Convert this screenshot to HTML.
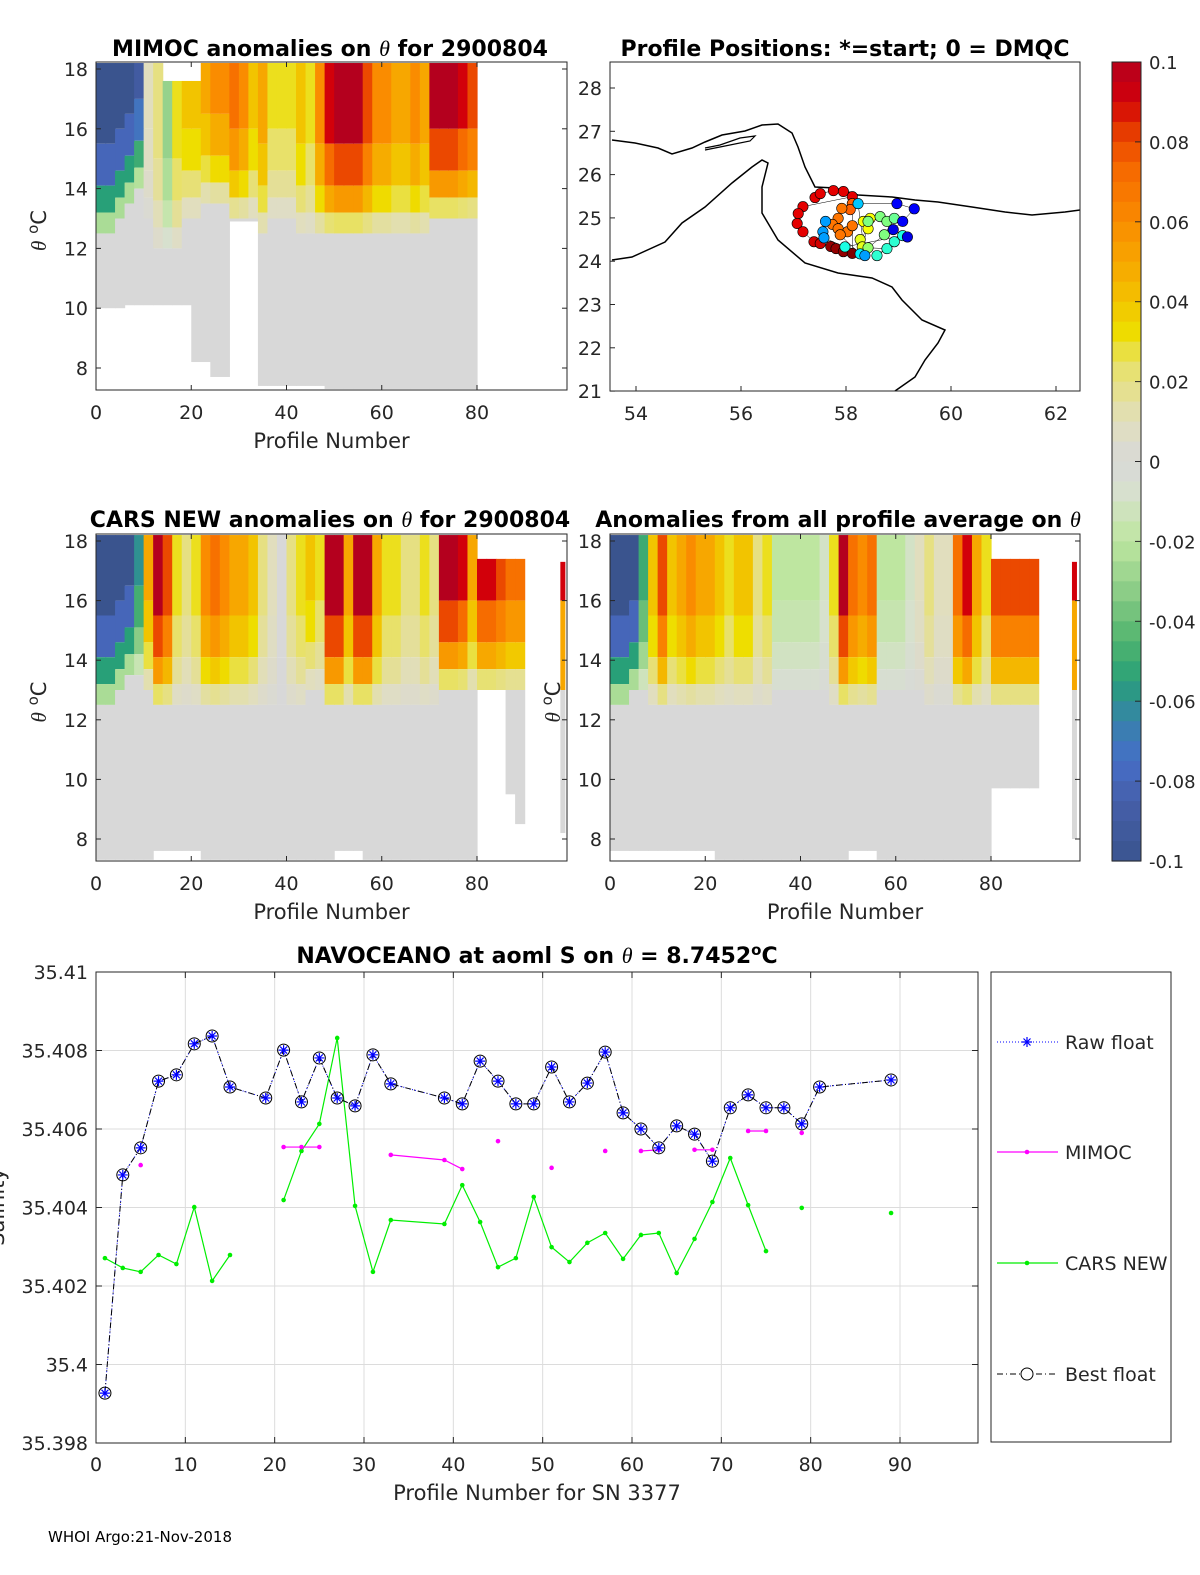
<!DOCTYPE html>
<html><head><meta charset="utf-8">
<style>
html,body{margin:0;padding:0;background:#fff;width:1200px;height:1575px;overflow:hidden;}
svg{display:block;font-family:"DejaVu Sans","Liberation Sans",sans-serif;}
</style></head>
<body>
<svg id="fig" width="1200" height="1575" viewBox="0 0 1200 1575" xmlns="http://www.w3.org/2000/svg">
<rect width="1200" height="1575" fill="#fff"/>
<g id="p1"></g>
<g id="p2"></g>
<g id="cb"></g>
<g id="p3"></g>
<g id="p4"></g>
<g id="p5"></g>
<text x="48" y="1542" font-size="15" fill="#000">WHOI Argo:21-Nov-2018</text>
</svg>
<script>
// ---------- DATA ----------
const mimocVals=[-0.1,-0.1,-0.1,-0.1,-0.09,0.01,0.02,-0.03,0.03,0.04,0.04,0.05,0.06,0.06,0.07,0.06,0.04,0.05,0.03,0.03,0.03,0.04,0.03,0.06,0.09,0.1,0.1,0.1,0.08,0.06,0.06,0.05,0.05,0.06,0.05,0.1,0.1,0.1,0.09,0.08];
const mimocFade=[12.5,12.5,13,13.5,14,13,12,12,12,13,13,13.5,13.5,13.5,13,13,13,12.5,13,13,13,12.5,12.5,12.5,12.5,12.5,12.5,12.5,12.5,12.5,12.5,12.5,12.5,12.5,12.5,13,13,13,13,13];
const mimocMin=[10,10,10,10.1,10.1,10.1,10.1,10.1,10.1,10.1,8.2,8.2,7.7,7.7,12.9,12.9,12.9,7.4,7.4,7.4,7.4,7.4,7.4,7.4,7.3,7.3,7.3,7.3,7.3,7.3,7.3,7.3,7.3,7.3,7.3,7.3,7.3,7.3,7.3,7.3];
const mimocTop=[18.2,18.2,18.2,18.2,18.2,18.2,18.2,17.6,17.6,17.6,17.6,18.2,18.2,18.2,18.2,18.2,18.2,18.2,18.2,18.2,18.2,18.2,18.2,18.2,18.2,18.2,18.2,18.2,18.2,18.2,18.2,18.2,18.2,18.2,18.2,18.2,18.2,18.2,18.2,18.2];

const carsVals=[-0.1,-0.1,-0.1,-0.1,-0.06,0.05,0.1,0.08,0.03,0.02,0.03,0.06,0.07,0.06,0.05,0.05,0.04,0.02,0.01,0.0,0.02,0.03,0.04,0.03,0.1,0.1,0.05,0.1,0.1,0.05,0.03,0.03,0.02,0.02,0.03,0.02,0.1,0.1,0.09,0.05,0.09,0.09,0.08,0.07,0.07];
const carsFade=[12.5,12.5,13,13.5,13.5,13,12.5,12.5,12.5,12.5,12.5,12.5,12.5,12.5,12.5,12.5,12.5,12.5,12.5,12.5,12.5,12.5,13,13,12.5,12.5,12.5,12.5,12.5,12.5,12.5,12.5,12.5,12.5,12.5,12.5,13,13,13,13,13,13,13,13,13];
const carsMin=[7.3,7.3,7.3,7.3,7.3,7.3,7.6,7.6,7.6,7.6,7.6,7.3,7.3,7.3,7.3,7.3,7.3,7.3,7.3,7.3,7.3,7.3,7.3,7.3,7.3,7.6,7.6,7.6,7.3,7.3,7.3,7.3,7.3,7.3,7.3,7.3,7.3,7.3,7.3,7.3,15.6,15.6,15.6,9.5,8.5];
const carsTop=[18.2,18.2,18.2,18.2,18.2,18.2,18.2,18.2,18.2,18.2,18.2,18.2,18.2,18.2,18.2,18.2,18.2,18.2,18.2,18.2,18.2,18.2,18.2,18.2,18.2,18.2,18.2,18.2,18.2,18.2,18.2,18.2,18.2,18.2,18.2,18.2,18.2,18.2,18.2,18.2,17.4,17.4,17.4,17.4,17.4];

const allVals=[-0.1,-0.1,-0.1,-0.05,0.04,0.08,0.04,0.05,0.06,0.05,0.05,0.04,0.03,0.04,0.04,0.02,0.03,-0.02,-0.02,-0.02,-0.02,-0.02,-0.01,0.03,0.1,0.07,0.06,0.07,-0.02,-0.02,-0.02,-0.01,0.01,0.02,0.01,0.01,0.07,0.09,0.05,0.03,0.08,0.08,0.08,0.08,0.08];
const allFade=[12.5,12.5,13,13,12.5,12.5,12.5,12.5,12.5,12.5,12.5,12.5,12.5,12.5,12.5,12.5,12.5,13,13,13,13,13,13,12.5,12.5,12.5,12.5,12.5,13,13,13,13,13,12.5,12.5,12.5,12.5,12.5,12.5,12.5,12.5,12.5,12.5,12.5,12.5];
const allMin=[7.6,7.6,7.6,7.6,7.6,7.6,7.6,7.6,7.6,7.6,7.6,7.3,7.3,7.3,7.3,7.3,7.3,7.3,7.3,7.3,7.3,7.3,7.3,7.3,7.3,7.6,7.6,7.6,7.3,7.3,7.3,7.3,7.3,7.3,7.3,7.3,7.3,7.3,7.3,7.3,9.7,9.7,9.7,9.7,9.7];
const allTop=[18.2,18.2,18.2,18.2,18.2,18.2,18.2,18.2,18.2,18.2,18.2,18.2,18.2,18.2,18.2,18.2,18.2,18.2,18.2,18.2,18.2,18.2,18.2,18.2,18.2,18.2,18.2,18.2,18.2,18.2,18.2,18.2,18.2,18.2,18.2,18.2,18.2,18.2,18.2,18.2,17.4,17.4,17.4,17.4,17.4];

const mapLon=[57.41,57.51,57.76,57.95,58.12,57.18,57.09,57.07,57.18,57.39,57.51,57.71,57.81,57.95,58.12,58.12,58.08,57.92,57.85,57.74,57.85,58.03,58.12,57.89,58.33,58.42,58.27,58.31,58.46,58.42,58.65,58.78,58.92,58.73,58.42,58.78,58.59,58.92,59.08,57.98,58.27,57.61,57.56,57.58,58.36,58.23,58.97,59.30,59.08,58.90,59.17];
const mapLat=[25.47,25.56,25.63,25.61,25.49,25.26,25.10,24.87,24.68,24.45,24.41,24.34,24.29,24.22,24.18,25.33,25.19,25.22,24.99,24.85,24.75,24.68,24.82,24.61,24.92,24.75,24.50,24.33,24.99,24.92,25.03,24.92,24.99,24.61,24.31,24.29,24.13,24.45,24.59,24.33,24.17,24.92,24.68,24.54,24.13,25.33,25.33,25.21,24.92,24.73,24.56];
const mapCol=[0.9,0.9,0.9,0.9,0.9,0.9,0.9,0.9,0.9,0.92,0.92,0.98,0.98,0.98,1.0,0.78,0.78,0.76,0.76,0.76,0.76,0.76,0.76,0.76,0.62,0.62,0.6,0.6,0.62,0.5,0.5,0.5,0.48,0.5,0.52,0.42,0.42,0.42,0.4,0.4,0.36,0.28,0.28,0.28,0.28,0.32,0.12,0.12,0.12,0.1,0.1];

const bestX=[1,3,5,7,9,11,13,15,19,21,23,25,27,29,31,33,39,41,43,45,47,49,51,53,55,57,59,61,63,65,67,69,71,73,75,77,79,81,89];
const bestS=[35.39927,35.40483,35.40552,35.40722,35.40738,35.40817,35.40837,35.40707,35.40679,35.40801,35.40669,35.40781,35.40679,35.40659,35.40789,35.40715,35.40679,35.40664,35.40773,35.40722,35.40664,35.40664,35.40758,35.40669,35.40717,35.40796,35.40641,35.40600,35.40552,35.40608,35.40587,35.40518,35.40654,35.40687,35.40654,35.40654,35.40613,35.40707,35.40725];
const mimocX=[5,null,21,23,25,null,33,39,41,null,45,null,51,null,57,null,61,63,null,67,69,null,73,75,null,79];
const mimocS=[35.40508,null,35.40554,35.40554,35.40554,null,35.40534,35.40521,35.40498,null,35.40569,null,35.40501,null,35.40544,null,35.40544,35.40547,null,35.40547,35.40547,null,35.40595,35.40595,null,35.40590];
const carsX=[1,3,5,7,9,11,13,15,null,21,23,25,27,29,31,33,39,41,43,45,47,49,51,53,55,57,59,61,63,65,67,69,71,73,75,null,79,null,89];
const carsS=[35.40271,35.40246,35.40236,35.40279,35.40256,35.40401,35.40213,35.40279,null,35.40419,35.40544,35.40613,35.40832,35.40404,35.40236,35.40368,35.40358,35.40457,35.40363,35.40248,35.40271,35.40427,35.40299,35.40261,35.40310,35.40335,35.40269,35.40330,35.40335,35.40233,35.40320,35.40414,35.40526,35.40406,35.40289,null,35.40399,null,35.40386];
const salTicks=[35.398,35.4,35.402,35.404,35.406,35.408,35.41];
const salTickLabels=["35.398","35.4","35.402","35.404","35.406","35.408","35.41"];
const profTicks=[0,10,20,30,40,50,60,70,80,90];

// ---------- HELPERS ----------
const NS="http://www.w3.org/2000/svg";
function mk(tag,attrs,parent){const e=document.createElementNS(NS,tag);for(const k in attrs)e.setAttribute(k,attrs[k]);parent.appendChild(e);return e;}
const stops=[[-0.1,[58,84,142]],[-0.085,[70,95,170]],[-0.075,[70,110,200]],[-0.065,[55,130,170]],[-0.055,[40,160,120]],[-0.045,[80,180,110]],[-0.035,[130,200,130]],[-0.02,[190,230,160]],[-0.008,[215,225,205]],[0,[216,216,216]],[0.01,[225,222,190]],[0.025,[232,225,100]],[0.032,[238,222,0]],[0.045,[245,180,0]],[0.06,[250,140,0]],[0.075,[245,100,0]],[0.085,[225,45,0]],[0.09,[210,0,10]],[0.1,[180,0,30]]];
function cmap(v){v=Math.max(-0.1,Math.min(0.1,v));for(let i=0;i<stops.length-1;i++){const a=stops[i],b=stops[i+1];if(v<=b[0]){const t=(v-a[0])/(b[0]-a[0]);const c=a[1].map((x,j)=>Math.round(x+(b[1][j]-x)*t));return `rgb(${c[0]},${c[1]},${c[2]})`;}}return "rgb(180,0,30)";}
function jet(t){const r=Math.min(Math.max(1.5-Math.abs(4*t-3),0),1),g=Math.min(Math.max(1.5-Math.abs(4*t-2),0),1),b=Math.min(Math.max(1.5-Math.abs(4*t-1),0),1);return `rgb(${Math.round(r*255)},${Math.round(g*255)},${Math.round(b*255)})`;}
function txt(p,x,y,s,size,opts){const t=mk('text',Object.assign({x:x,y:y,'font-size':size,fill:'#262626'},opts||{}),p);t.textContent=s;return t;}

// ---------- HEATMAP PANELS ----------
function heatPanel(gid,X0,X1,Y0,Y1,vals,fade,mins,tops,title,showYLabel,extra){
  const g=document.getElementById(gid);
  const xs=p=>X0+(p/80)*( (gid==='p4'?991:477)-X0 );
  const ys=th=>Y0+(18-th)*((Y1-Y0)/10);
  const cw=xs(2)-xs(0);
  for(let i=0;i<vals.length;i++){
    const x=xs(i*2), v=vals[i], f=fade[i], mn=mins[i], tp=tops[i];
    const band0=Math.min(tp,f+3);
    const band1=Math.min(tp,f+1.6);
    let r=mk('rect',{x:x,y:ys(tp),width:cw+0.6,height:Math.max(0,ys(band0)-ys(tp)),fill:cmap(v)},g);
    
    
    r=mk('rect',{x:x,y:ys(band0),width:cw+0.6,height:Math.max(0,ys(band1)-ys(band0)),fill:cmap(v*0.8)},g);
    
    
    r=mk('rect',{x:x,y:ys(band1),width:cw+0.6,height:Math.max(0,ys(f+0.7)-ys(band1)),fill:cmap(v*0.55)},g);
    
    
    r=mk('rect',{x:x,y:ys(f+0.7),width:cw+0.6,height:Math.max(0,ys(f)-ys(f+0.7)),fill:cmap(v*0.25)},g);
    
    
    if(mn<f){r=mk('rect',{x:x,y:ys(f),width:cw+0.6,height:ys(mn)-ys(f),fill:'#d8d8d8'},g);
    
    }
  }
  if(extra){
    const x=xs(extra.p);
    let r=mk('rect',{x:x,y:ys(17.3),width:5,height:ys(16)-ys(17.3),fill:cmap(0.09)},g);
    
    
    r=mk('rect',{x:x,y:ys(16),width:5,height:ys(13)-ys(16),fill:cmap(0.05)},g);
    
    
    r=mk('rect',{x:x,y:ys(13),width:5,height:ys(extra.min)-ys(13),fill:'#d8d8d8'},g);
    
    
  }
  const box=mk('rect',{x:X0,y:Y0-7,width:X1-X0,height:Y1-Y0+29,fill:'none',stroke:'#262626','stroke-width':1},g);
  
  
  const bot=Y1+22;
  for(let p=0;p<=80;p+=20){
    const x=xs(p);
    mk('line',{x1:x,y1:bot,x2:x,y2:bot-5,stroke:'#262626'},g);
    mk('line',{x1:x,y1:Y0-7,x2:x,y2:Y0-2,stroke:'#262626'},g);
    const t=txt(g,x,bot+29,String(p),19,{'text-anchor':'middle'});
    
    
  }
  for(let th=8;th<=18;th+=2){
    const y=ys(th);
    mk('line',{x1:X0,y1:y,x2:X0+5,y2:y,stroke:'#262626'},g);
    mk('line',{x1:X1,y1:y,x2:X1-5,y2:y,stroke:'#262626'},g);
    const t=txt(g,X0-8,y+7,String(th),19,{'text-anchor':'end'});
    
    
  }
  const xl=txt(g,(X0+X1)/2,bot+58,'Profile Number',21,{'text-anchor':'middle'});
  
  
  if(showYLabel){
    const yl=txt(g,0,0,'',21,{'text-anchor':'middle',transform:`translate(${X0-50},${(Y0+Y1)/2+12}) rotate(-90)`});
    yl.innerHTML='<tspan font-family="Liberation Serif" font-style="italic">θ</tspan> <tspan dy="-8" font-size="15">o</tspan><tspan dy="8">C</tspan>';
    
    
  }
  const tt=txt(g,title.x,title.y,'',22,{'text-anchor':'middle','font-weight':'bold',fill:'#000'});
  tt.innerHTML=title.html;
  
  
}
heatPanel('p1',96,567,69,368,mimocVals,mimocFade,mimocMin,mimocTop,{x:330,y:56,html:'MIMOC anomalies on <tspan font-family="Liberation Serif" font-style="italic" font-weight="normal">θ</tspan>  for 2900804'},true,null);
heatPanel('p3',96,567,541,839,carsVals,carsFade,carsMin,carsTop,{x:330,y:527,html:'CARS NEW anomalies on <tspan font-family="Liberation Serif" font-style="italic" font-weight="normal">θ</tspan> for 2900804'},true,{p:97.5,min:8.2});
heatPanel('p4',610,1080,541,839,allVals,allFade,allMin,allTop,{x:838,y:527,html:'Anomalies from all profile average on <tspan font-family="Liberation Serif" font-style="italic" font-weight="normal">θ</tspan>'},true,{p:97,min:8.0});

// ---------- MAP ----------
(function(){
  const g=document.getElementById('p2');
  const X0=610,X1=1080,Y0=62,Y1=391;
  const lx=l=>636+(l-54)*52.5, ly=l=>88+(28-l)*43.3;
  const up=[[612,140],[635,143],[658,148],[672,154],[692,148],[705,142],[722,135],[745,131],[762,125],[778,124],[792,133],[798,147],[805,167],[815,187],[835,188],[858,195],[892,197],[915,200],[938,202],[972,207],[1005,212],[1032,215],[1065,212],[1080,210]];
  const lo=[[612,260],[632,257],[665,242],[682,223],[705,207],[732,183],[752,167],[762,160],[768,163],[762,187],[762,213],[778,240],[805,263],[838,273],[872,278],[892,287],[902,300],[922,320],[945,330],[938,343],[925,360],[915,377],[895,391]];
  let c=mk('polyline',{points:up.map(p=>p.join(',')).join(' '),fill:'none',stroke:'#000','stroke-width':1.5},g);
  
  
  c=mk('polyline',{points:lo.map(p=>p.join(',')).join(' '),fill:'none',stroke:'#000','stroke-width':1.5},g);
  
  
  c=mk('polyline',{points:'705,148 720,145 740,138 755,136 750,141 725,146 705,150',fill:'none',stroke:'#000','stroke-width':1.2},g);
  
  
  mk('polyline',{points:mapLon.map((l,i)=>lx(l)+','+ly(mapLat[i])).join(' '),fill:'none',stroke:'#000','stroke-width':0.5},g);
  for(let i=0;i<mapLon.length;i++){
    const d=mk('circle',{cx:lx(mapLon[i]),cy:ly(mapLat[i]),r:5.2,fill:jet(mapCol[i]),stroke:'#000','stroke-width':0.6},g);
    
    
  }
  const b=mk('rect',{x:X0,y:Y0,width:X1-X0,height:Y1-Y0,fill:'none',stroke:'#262626'},g);
  
  
  for(let l=54;l<=62;l+=2){const x=lx(l);mk('line',{x1:x,y1:Y1,x2:x,y2:Y1-5,stroke:'#262626'},g);
    const t=txt(g,x,Y1+29,String(l),19,{'text-anchor':'middle'});
    
    }
  for(let l=21;l<=28;l++){const y=ly(l);mk('line',{x1:X0,y1:y,x2:X0+5,y2:y,stroke:'#262626'},g);
    const t=txt(g,X0-8,y+7,String(l),19,{'text-anchor':'end'});
    
    }
  const tt=txt(g,845,56,'Profile Positions: *=start; 0 = DMQC',22,{'text-anchor':'middle','font-weight':'bold',fill:'#000'});
  
  
})();

// ---------- COLORBAR ----------
(function(){
  const g=document.getElementById('cb');
  const X=1112,W=29,Y0=62,Y1=861;
  const n=40, h=(Y1-Y0)/n;
  for(let i=0;i<n;i++){
    const v=0.1-(i+0.5)*0.2/n;
    const r=mk('rect',{x:X,y:Y0+i*h,width:W,height:h+0.6,fill:cmap(v)},g);
    
    
  }
  mk('rect',{x:X,y:Y0,width:W,height:Y1-Y0,fill:'none',stroke:'#262626'},g);
  const labs=['0.1','0.08','0.06','0.04','0.02','0','-0.02','-0.04','-0.06','-0.08','-0.1'];
  labs.forEach((s,i)=>{const y=Y0+i*(Y1-Y0)/10;
    mk('line',{x1:X+W-6,y1:y,x2:X+W,y2:y,stroke:'#262626'},g);
    const t=txt(g,1149,y+7,s,18,{});
    
    });
})();

// ---------- SALINITY CHART ----------
(function(){
  const g=document.getElementById('p5');
  const X0=96,X1=978,Y0=972,Y1=1443;
  const xs=p=>X0+p*(900-96)/90;
  const ys=s=>Y1-(s-35.398)/(0.012)*(Y1-Y0);
  mk('rect',{x:X0,y:Y0,width:X1-X0,height:Y1-Y0,fill:'#fff'},g);
  profTicks.forEach(p=>{const x=xs(p);
    if(p>0)mk('line',{x1:x,y1:Y0,x2:x,y2:Y1,stroke:'#dcdcdc'},g);
    mk('line',{x1:x,y1:Y1,x2:x,y2:Y1-6,stroke:'#262626'},g);
    mk('line',{x1:x,y1:Y0,x2:x,y2:Y0+6,stroke:'#262626'},g);
    const t=txt(g,x,Y1+28,String(p),19,{'text-anchor':'middle'});
    
    });
  salTicks.forEach((s,i)=>{const y=ys(s);
    if(i>0&&i<salTicks.length-1)mk('line',{x1:X0,y1:y,x2:X1,y2:y,stroke:'#dcdcdc'},g);
    mk('line',{x1:X0,y1:y,x2:X0+6,y2:y,stroke:'#262626'},g);
    mk('line',{x1:X1,y1:y,x2:X1-6,y2:y,stroke:'#262626'},g);
    const t=txt(g,X0-8,y+7,salTickLabels[i],19,{'text-anchor':'end'});
    
    });
  function segs(xa,ya){const out=[];let cur=[];xa.forEach((x,i)=>{if(x===null){if(cur.length)out.push(cur);cur=[];}else cur.push([xs(x),ys(ya[i])]);});if(cur.length)out.push(cur);return out;}
  segs(carsX,carsS).forEach(sg=>{
    if(sg.length>1){const l=mk('polyline',{points:sg.map(p=>p.join(',')).join(' '),fill:'none',stroke:'#00ee00','stroke-width':1.2},g);
    
    }
    sg.forEach(p=>{const c=mk('circle',{cx:p[0],cy:p[1],r:2.3,fill:'#00ee00'},g);
    
    });
  });
  segs(mimocX,mimocS).forEach(sg=>{
    if(sg.length>1){const l=mk('polyline',{points:sg.map(p=>p.join(',')).join(' '),fill:'none',stroke:'#ff00ff','stroke-width':1.2},g);
    
    }
    sg.forEach(p=>{const c=mk('circle',{cx:p[0],cy:p[1],r:2.3,fill:'#ff00ff'},g);
    
    });
  });
  const pts=bestX.map((x,i)=>[xs(x),ys(bestS[i])]);
  let l=mk('polyline',{points:pts.map(p=>p.join(',')).join(' '),fill:'none',stroke:'#0000ff','stroke-width':1,'stroke-dasharray':'1,2'},g);
  
  
  l=mk('polyline',{points:pts.map(p=>p.join(',')).join(' '),fill:'none',stroke:'#000','stroke-width':1,'stroke-dasharray':'6,3,1,3'},g);
  
  
  function star(x,y,p){mk('path',{d:`M${x-5},${y}h10M${x},${y-5}v10M${x-3.5},${y-3.5}l7,7M${x-3.5},${y+3.5}l7,-7`,stroke:'#0000ff','stroke-width':1.2},p);}
  pts.forEach(p=>{
    const c=mk('circle',{cx:p[0],cy:p[1],r:6,fill:'none',stroke:'#000','stroke-width':1},g);
    
    
    star(p[0],p[1],g);
  });
  mk('rect',{x:X0,y:Y0,width:X1-X0,height:Y1-Y0,fill:'none',stroke:'#262626'},g);
  const tt=txt(g,537,963,'',22,{'text-anchor':'middle','font-weight':'bold',fill:'#000'});
  tt.innerHTML='NAVOCEANO at aoml S on <tspan font-family="Liberation Serif" font-style="italic" font-weight="normal">θ</tspan> = 8.7452<tspan dy="-8" font-size="15">o</tspan><tspan dy="8">C</tspan>';
  
  
  const xl=txt(g,537,1500,'Profile Number for SN 3377',21,{'text-anchor':'middle'});
  
  
  const yl=txt(g,0,0,'Salinity',21,{'text-anchor':'middle',transform:'translate(4,1207) rotate(-90)'});
  
  
  const lg=mk('g',{},g);
  
  
  mk('rect',{x:991,y:972,width:180,height:470,fill:'#fff',stroke:'#262626'},lg);
  const entries=[['Raw float',1042],['MIMOC',1152],['CARS NEW',1263],['Best float',1374]];
  entries.forEach((e,i)=>{
    const y=e[1];
    const eg=mk('g',{},lg);
    
    
    if(i===0){mk('line',{x1:997,y1:y,x2:1058,y2:y,stroke:'#0000ff','stroke-dasharray':'1,2'},eg);star(1027,y,eg);}
    if(i===1){mk('line',{x1:997,y1:y,x2:1058,y2:y,stroke:'#ff00ff','stroke-width':1.2},eg);mk('circle',{cx:1027,cy:y,r:2.3,fill:'#ff00ff'},eg);}
    if(i===2){mk('line',{x1:997,y1:y,x2:1058,y2:y,stroke:'#00ee00','stroke-width':1.2},eg);mk('circle',{cx:1027,cy:y,r:2.3,fill:'#00ee00'},eg);}
    if(i===3){mk('line',{x1:997,y1:y,x2:1058,y2:y,stroke:'#000','stroke-dasharray':'6,3,1,3'},eg);mk('circle',{cx:1027,cy:y,r:6,fill:'#fff',stroke:'#000'},eg);}
    const t=txt(eg,1065,y+7,e[0],19,{});
    
    
  });
})();
</script>
</body></html>
